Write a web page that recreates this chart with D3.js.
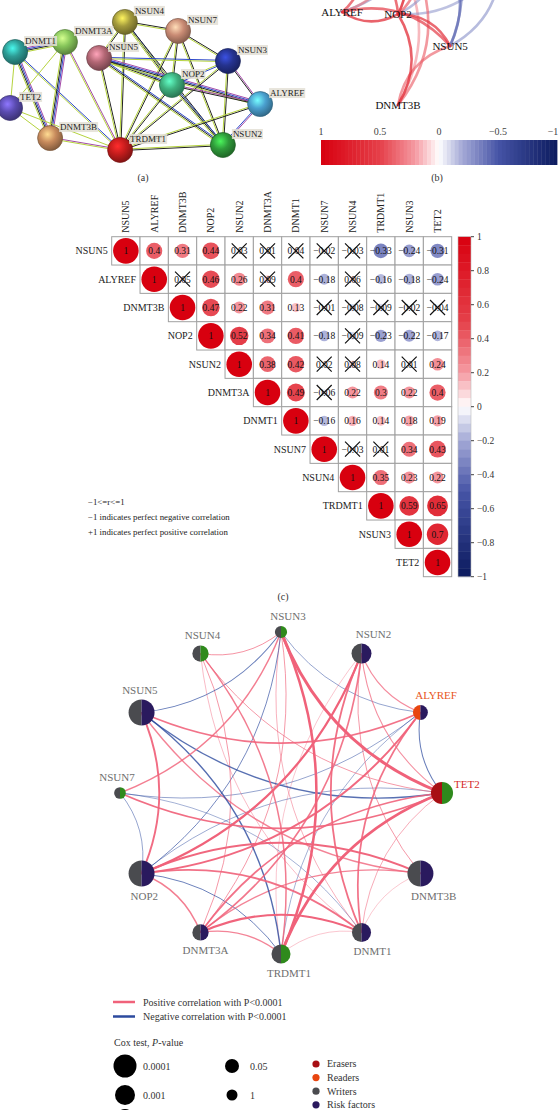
<!DOCTYPE html>
<html><head><meta charset="utf-8">
<script src="https://cdn.jsdelivr.net/npm/d3@7"></script>
<style>body{margin:0;background:#fff}svg{display:block}text{font-family:"Liberation Serif","DejaVu Serif",serif}</style>
</head><body><svg id="c" width="560" height="1110"></svg>
<script>
// ================= DATA =================
const genes = ["NSUN5","ALYREF","DNMT3B","NOP2","NSUN2","DNMT3A","DNMT1","NSUN7","NSUN4","TRDMT1","NSUN3","TET2"];
// upper-triangle rows of the correlation matrix (row i starts at column i)
const corrRows = [
 [1,0.4,0.31,0.44,0.03,0.01,0.04,-0.02,-0.03,-0.33,-0.24,-0.31],
 [1,0.05,0.46,0.26,0.09,0.4,-0.18,0.06,-0.16,-0.18,-0.24],
 [1,0.47,0.22,0.31,0.13,-0.01,-0.08,-0.09,-0.02,-0.04],
 [1,0.52,0.34,0.41,-0.18,-0.09,-0.23,-0.22,-0.17],
 [1,0.38,0.42,0.02,0.08,0.14,0.01,0.24],
 [1,0.49,-0.06,0.22,0.3,0.22,0.4],
 [1,-0.16,0.16,0.14,0.18,0.19],
 [1,-0.03,0.01,0.34,0.43],
 [1,0.35,0.23,0.22],
 [1,0.59,0.65],
 [1,0.7],
 [1]
];
const notSignificant = ["NSUN5|NSUN2","NSUN5|DNMT3A","NSUN5|DNMT1","NSUN5|NSUN7","NSUN5|NSUN4",
 "ALYREF|DNMT3B","ALYREF|DNMT3A","ALYREF|NSUN4",
 "DNMT3B|NSUN7","DNMT3B|NSUN4","DNMT3B|TRDMT1","DNMT3B|NSUN3","DNMT3B|TET2",
 "NOP2|NSUN4","NSUN2|NSUN7","NSUN2|NSUN4","NSUN2|NSUN3","DNMT3A|NSUN7","NSUN7|NSUN4","NSUN7|TRDMT1"];
const colorbarTicks = [1,0.8,0.6,0.4,0.2,0,-0.2,-0.4,-0.6,-0.8,-1];
const colorbarTicksB = [1,0.5,0,-0.5,-1];
const noteLines = ["−1<=r<=1","−1 indicates perfect negative correlation","+1 indicates perfect positive correlation"];

// panel (a): STRING network layout (layout units 0-100)
const aNodes = [
 {id:"DNMT1",x:5.4,y:30.6},{id:"DNMT3A",x:23.2,y:24.7},{id:"NSUN4",x:44.6,y:12.9},
 {id:"NSUN7",x:63.6,y:18.2},{id:"NSUN5",x:35.4,y:34.1},{id:"NSUN3",x:81.4,y:35.9},
 {id:"NOP2",x:61.4,y:50},{id:"ALYREF",x:92.9,y:61.2},{id:"TET2",x:3.6,y:63.5},
 {id:"DNMT3B",x:17.9,y:81.2},{id:"TRDMT1",x:42.9,y:88.2},{id:"NSUN2",x:79.6,y:85.3}];
// evidence channels: p experiments, b co-occurrence, k co-expression, g text-mining
const aEdges = [
 ["DNMT1","DNMT3A","pbkg"],["DNMT1","TET2","g"],["DNMT1","DNMT3B","pbkg"],["DNMT1","TRDMT1","bg"],
 ["DNMT3A","TET2","g"],["DNMT3A","DNMT3B","pbkg"],["DNMT3A","TRDMT1","pg"],["TET2","DNMT3B","g"],
 ["TET2","TRDMT1","g"],["DNMT3B","TRDMT1","pg"],["NSUN4","NSUN7","kg"],["NSUN4","NSUN5","kg"],
 ["NSUN4","NOP2","bkg"],["NSUN4","TRDMT1","kg"],["NSUN4","NSUN2","kg"],["NSUN7","NSUN3","kg"],
 ["NSUN7","NOP2","kg"],["NSUN7","TRDMT1","kg"],["NSUN7","NSUN2","kg"],["NSUN5","NSUN3","bg"],
 ["NSUN5","NOP2","bkg"],["NSUN5","ALYREF","pbkg"],["NSUN5","TRDMT1","kg"],["NSUN5","NSUN2","bkg"],
 ["NSUN3","NOP2","bg"],["NSUN3","ALYREF","pk"],["NSUN3","TRDMT1","kg"],["NSUN3","NSUN2","kg"],
 ["NOP2","ALYREF","pk"],["NOP2","TRDMT1","kg"],["NOP2","NSUN2","bkg"],["ALYREF","NSUN2","pb"],
 ["ALYREF","TRDMT1","kg"],["NSUN2","TRDMT1","kg"]];

// panel (b): network_plot layout (layout units; negative = above visible area)
const bNodes = [
 {id:"ALYREF",x:19.3,y:10},{id:"NOP2",x:40,y:11.7},{id:"NSUN5",x:59.3,y:38.3},{id:"DNMT3B",x:40,y:87.5},
 {id:"TRDMT1",x:55.6,y:-41.7},{id:"NSUN3",x:77.8,y:-33},{id:"TET2",x:51.9,y:-75},{id:"NSUN2",x:38.9,y:-37.5},
 {id:"DNMT3A",x:46.3,y:-29},{id:"DNMT1",x:25.9,y:-33},{id:"NSUN7",x:92.6,y:-75},{id:"NSUN4",x:85,y:-92}];
const minCorB = 0.2;

// panel (d): circular network
const dOrder = ["NSUN3","NSUN2","ALYREF","TET2","DNMT3B","DNMT1","TRDMT1","DNMT3A","NOP2","NSUN7","NSUN5","NSUN4"];
const dType = {NSUN3:"Writers",NSUN2:"Writers",ALYREF:"Readers",TET2:"Erasers",DNMT3B:"Writers",DNMT1:"Writers",
 TRDMT1:"Writers",DNMT3A:"Writers",NOP2:"Writers",NSUN7:"Writers",NSUN5:"Writers",NSUN4:"Writers"};
const dRisk = {NSUN3:"Favorable factors",NSUN2:"Risk factors",ALYREF:"Risk factors",TET2:"Favorable factors",
 DNMT3B:"Risk factors",DNMT1:"Risk factors",TRDMT1:"Favorable factors",DNMT3A:"Risk factors",NOP2:"Risk factors",
 NSUN7:"Favorable factors",NSUN5:"Risk factors",NSUN4:"Favorable factors"};
const dCoxP = {NSUN3:0.3,NSUN2:0.001,ALYREF:0.035,TET2:0.0002,DNMT3B:0.000001,DNMT1:0.003,TRDMT1:0.003,
 DNMT3A:0.02,NOP2:0.000001,NSUN7:0.5,NSUN5:0.000001,NSUN4:0.02};
const pLegend = [0.0001,0.001,0.01,0.05,1];
const pLegendLabels = ["0.0001","0.001","0.01","0.05","1"];
const typeLegend = ["Erasers","Readers","Writers","Risk factors"];
const lineLegend = [["Positive correlation with P<0.0001",1],["Negative correlation with P<0.0001",-1]];

// ================= HELPERS =================
const svg = d3.select("#c");
const defs = svg.append("defs");
const corr = {};
genes.forEach((g,i)=>corrRows[i].forEach((v,k)=>{const h=genes[i+k]; corr[g+"|"+h]=v; corr[h+"|"+g]=v;}));
const isNS = (a,b)=>notSignificant.includes(a+"|"+b)||notSignificant.includes(b+"|"+a);
const corrColor = d3.scaleLinear().domain([-1,-0.5,-0.2,0,0.2,0.5,1])
  .range(["#0b1a5e","#4654a6","#a3a8d6","#ffffff","#f59aa2","#e5404a","#d8000f"]);
const fmt = v => v===1?"1":(v<0?"−":"")+String(Math.abs(v));

// ================= PANEL (a) =================
const aColors = {DNMT1:"#2e9c95",DNMT3A:"#86c55a",NSUN4:"#a39a3c",NSUN7:"#c98b74",NSUN5:"#b36775",NSUN3:"#25338f",
 NOP2:"#3eb07e",ALYREF:"#4a9fce",TET2:"#5a4bb0",DNMT3B:"#c78a5c",TRDMT1:"#c41c1c",NSUN2:"#2f9a3a"};
const evColor = {p:"#a34aa8",b:"#2b46c8",k:"#222222",g:"#b5d33d"};
const xA = d3.scaleLinear().domain([0,100]).range([0,280]);
const yA = d3.scaleLinear().domain([0,100]).range([0,170]);
const aById = Object.fromEntries(aNodes.map(n=>[n.id,n]));
const gA = svg.append("g");
aEdges.forEach(([s,t,ev])=>{
  const x1=xA(aById[s].x),y1=yA(aById[s].y),x2=xA(aById[t].x),y2=yA(aById[t].y);
  const L=Math.hypot(x2-x1,y2-y1), nx=-(y2-y1)/L, ny=(x2-x1)/L;
  const chans = ev.split("");
  chans.forEach((c,k)=>{
    const o=(k-(chans.length-1)/2)*1.3;
    gA.append("line").attr("x1",x1+nx*o).attr("y1",y1+ny*o).attr("x2",x2+nx*o).attr("y2",y2+ny*o)
      .attr("stroke",evColor[c]).attr("stroke-width",1);
  });
});
aNodes.forEach(n=>{
  const c=d3.color(aColors[n.id]);
  const gr=defs.append("radialGradient").attr("id","ga"+n.id).attr("cx","40%").attr("cy","35%").attr("r","65%");
  gr.append("stop").attr("offset","0%").attr("stop-color",c.brighter(1.3));
  gr.append("stop").attr("offset","50%").attr("stop-color",c);
  gr.append("stop").attr("offset","100%").attr("stop-color",c.darker(1.1));
  gA.append("circle").attr("cx",xA(n.x)).attr("cy",yA(n.y)).attr("r",12.5)
    .attr("fill",`url(#ga${n.id})`).attr("stroke",c.darker(1.4)).attr("stroke-width",0.7);
});
aNodes.forEach(n=>{
  const tx=xA(n.x)+10, ty=yA(n.y)-8;
  const bg=gA.append("rect");
  const t=gA.append("text").attr("x",tx).attr("y",ty).attr("font-size",9).attr("fill","#222").text(n.id);
  const w=t.node().getComputedTextLength();
  bg.attr("x",tx-1).attr("y",ty-8).attr("width",w+2).attr("height",10).attr("fill","#e3dfd5").attr("opacity",0.85);
});
svg.append("text").attr("x",143).attr("y",181).attr("text-anchor","middle").attr("font-size",10).attr("fill","#333").text("(a)");

// ================= PANEL (b) =================
const xB = d3.scaleLinear().domain([0,100]).range([290,560]);
const yB = d3.scaleLinear().domain([0,100]).range([0,120]);
defs.append("clipPath").attr("id","clipB").append("rect").attr("x",288).attr("y",0).attr("width",272).attr("height",122);
const gB = svg.append("g").attr("clip-path","url(#clipB)");
const bById = Object.fromEntries(bNodes.map(n=>[n.id,n]));
const bEdges=[];
genes.forEach((a,i)=>genes.forEach((b,j)=>{ if(j>i && Math.abs(corr[a+"|"+b])>=minCorB) bEdges.push([a,b,corr[a+"|"+b]]); }));
bEdges.sort((p,q)=>Math.abs(p[2])-Math.abs(q[2]));
bEdges.forEach(([s,t,r])=>{
  const x1=xB(bById[s].x),y1=yB(bById[s].y),x2=xB(bById[t].x),y2=yB(bById[t].y);
  const L=Math.hypot(x2-x1,y2-y1), nx=-(y2-y1)/L, ny=(x2-x1)/L;
  const cx=(x1+x2)/2+nx*0.3*L, cy=(y1+y2)/2+ny*0.3*L;
  const rc=Math.max(-1,Math.min(1,r*1.3));
  gB.append("path").attr("d",`M${x1},${y1}Q${cx},${cy} ${x2},${y2}`).attr("fill","none")
    .attr("stroke",corrColor(rc)).attr("stroke-opacity",0.35+Math.abs(r)*0.9)
    .attr("stroke-width",2.6).attr("stroke-linecap","round");
});
bNodes.filter(n=>n.y>0).forEach(n=>{
  gB.append("text").attr("x",xB(n.x)).attr("y",yB(n.y)+4).attr("text-anchor","middle")
    .attr("font-size",11).attr("fill","#111").text(n.id);
});
// colour bar (b)
const cbx = d3.scaleLinear().domain([1,-1]).range([321,557]);
const nb=60, stepB=2/nb;
d3.range(nb).forEach(k=>{
  const v0=1-k*stepB, v1=v0-stepB;
  svg.append("rect").attr("x",cbx(v0)).attr("y",140).attr("width",cbx(v1)-cbx(v0)+0.4).attr("height",25)
    .attr("fill",corrColor((v0+v1)/2));
});
colorbarTicksB.forEach(v=>{
  svg.append("text").attr("x",Math.min(cbx(v),553)).attr("y",135).attr("text-anchor","middle").attr("font-size",10)
    .attr("fill","#444").text(fmt(v));
});
svg.append("text").attr("x",437).attr("y",181).attr("text-anchor","middle").attr("font-size",10).attr("fill","#333").text("(b)");

// ================= PANEL (c) =================
const x0c=111.7, y0c=236.7, cs=340/12;
const xc = d3.scaleBand().domain(genes).range([x0c,x0c+340]);
const yc = d3.scaleBand().domain(genes).range([y0c,y0c+340]);
const gC = svg.append("g");
genes.forEach((g,i)=>{
  gC.append("text").attr("x",xc(g)-4).attr("y",yc(g)+cs/2+3.5).attr("text-anchor","end")
    .attr("font-size",10).attr("fill","#222").text(g);
  const cx=xc(g)+cs/2+3.5;
  gC.append("text").attr("transform",`translate(${cx},${y0c-4}) rotate(-90)`).attr("font-size",10)
    .attr("fill","#222").text(g);
  corrRows[i].forEach((v,k)=>{
    const h=genes[i+k];
    gC.append("rect").attr("x",xc(h)).attr("y",yc(g)).attr("width",cs).attr("height",cs)
      .attr("fill","#fff").attr("stroke","#a0a0a0").attr("stroke-width",1);
  });
});
genes.forEach((g,i)=>{
  corrRows[i].forEach((v,k)=>{
    const h=genes[i+k];
    const cx=xc(h)+cs/2, cy=yc(g)+cs/2;
    gC.append("circle").attr("cx",cx).attr("cy",cy).attr("r",Math.max(3,12.8*Math.sqrt(Math.abs(v))))
      .attr("fill",corrColor(v));
    gC.append("text").attr("x",cx).attr("y",cy+3.4).attr("text-anchor","middle").attr("font-size",9.5)
      .attr("fill","#111").text(fmt(v));
    if(isNS(g,h)){
      const d=7.5;
      gC.append("path").attr("d",`M${cx-d},${cy-d}L${cx+d},${cy+d}M${cx+d},${cy-d}L${cx-d},${cy+d}`)
        .attr("stroke","#111").attr("stroke-width",1.2);
    }
  });
});
// colour bar (c)
const cby = d3.scaleLinear().domain([1,-1]).range([y0c,y0c+340]);
const nc=40, stepC=2/nc;
d3.range(nc).forEach(k=>{
  const v0=1-k*stepC, v1=v0-stepC;
  gC.append("rect").attr("x",458).attr("y",cby(v0)).attr("width",13).attr("height",cby(v1)-cby(v0)+0.4)
    .attr("fill",corrColor((v0+v1)/2));
});
gC.append("rect").attr("x",458).attr("y",y0c).attr("width",13).attr("height",340).attr("fill","none")
  .attr("stroke","#bbb").attr("stroke-width",0.6);
colorbarTicks.forEach(v=>{
  gC.append("line").attr("x1",471).attr("x2",474).attr("y1",cby(v)).attr("y2",cby(v)).attr("stroke","#444");
  gC.append("text").attr("x",477).attr("y",cby(v)+3.5).attr("font-size",9.5).attr("fill","#333").text(fmt(v));
});
noteLines.forEach((s,i)=>{
  gC.append("text").attr("x",88).attr("y",505+i*15).attr("font-size",8.8).attr("fill","#222").text(s);
});
svg.append("text").attr("x",283).attr("y",600).attr("text-anchor","middle").attr("font-size",10).attr("fill","#333").text("(c)");

// ================= PANEL (d) =================
const cxD=281, cyD=793, RD=161;
const ang = d3.scaleLinear().domain([0,12]).range([Math.PI/2, Math.PI/2-2*Math.PI]);
const sizeD = d3.scaleLinear().domain([0,1.3,2,3,4,6]).range([5.5,7,9,10,11.5,13]).clamp(true);
const typeColor = {"Erasers":"#a80f14","Readers":"#e8450f","Writers":"#4a4b4f","Risk factors":"#2a1a5e","Favorable factors":"#2f8a1c"};
const labelColor = {"Erasers":"#d42a2a","Readers":"#e8561c","Writers":"#6e6e6e"};
const dNodes = dOrder.map((id,i)=>({id,a:ang(i),x:cxD+RD*Math.cos(ang(i)),y:cyD-RD*Math.sin(ang(i)),r:sizeD(-Math.log10(dCoxP[id]))}));
const dById = Object.fromEntries(dNodes.map(n=>[n.id,n]));
const gD = svg.append("g");
const dEdges=[];
genes.forEach((a,i)=>genes.forEach((b,j)=>{ if(j>i && !isNS(a,b)) dEdges.push([a,b,corr[a+"|"+b]]); }));
dEdges.sort((p,q)=>Math.abs(p[2])-Math.abs(q[2]));
dEdges.forEach(([s,t,r])=>{
  const A=dById[s],B=dById[t];
  const L=Math.hypot(B.x-A.x,B.y-A.y); let nx=-(B.y-A.y)/L, ny=(B.x-A.x)/L;
  const mx=(A.x+B.x)/2,my=(A.y+B.y)/2;
  const dot=nx*(cxD-mx)+ny*(cyD-my);
  if(dot<-1e-6 || (Math.abs(dot)<1e-6 && ny<0)){nx=-nx;ny=-ny;}
  const qx=mx+nx*0.22*L, qy=my+ny*0.22*L;
  gD.append("path").attr("d",`M${A.x},${A.y}Q${qx},${qy} ${B.x},${B.y}`).attr("fill","none")
    .attr("stroke",r>0?"#f0627a":"#2c4a9e").attr("stroke-width",Math.max(0.6,4.3*Math.abs(r)))
    .attr("stroke-opacity",Math.min(1,0.45+1.1*Math.abs(r)));
});
const halfL=d3.arc().innerRadius(0).startAngle(Math.PI).endAngle(2*Math.PI);
const halfR=d3.arc().innerRadius(0).startAngle(0).endAngle(Math.PI);
dNodes.forEach(n=>{
  const g=gD.append("g").attr("transform",`translate(${n.x},${n.y})`);
  g.append("path").attr("d",halfL({outerRadius:n.r})).attr("fill",typeColor[dType[n.id]]);
  g.append("path").attr("d",halfR({outerRadius:n.r})).attr("fill",typeColor[dRisk[n.id]]);
  const s=Math.sin(n.a), c=Math.cos(n.a);
  let lx, ly, anchor="middle";
  if(Math.abs(s)<0.1 && c>0){ lx=n.x+n.r+1; ly=n.y-5; anchor="start"; }
  else if(s>-0.1){ lx=n.x+7+10*c; ly=n.y-n.r-6; }
  else { lx=n.x+8+6*c; ly=n.y+n.r+13; }
  gD.append("text").attr("x",lx).attr("y",ly).attr("text-anchor",anchor).attr("font-size",11)
    .attr("fill",labelColor[dType[n.id]]).text(n.id);
});
// legend (d)
lineLegend.forEach(([s,sg],i)=>{
  const y=1002+i*14.5;
  svg.append("line").attr("x1",113).attr("x2",135).attr("y1",y).attr("y2",y)
    .attr("stroke",sg>0?"#f0627a":"#2c4a9e").attr("stroke-width",2.5);
  svg.append("text").attr("x",143).attr("y",y+3.5).attr("font-size",10).attr("fill","#333").text(s);
});
const cox=svg.append("text").attr("x",114).attr("y",1046).attr("font-size",10).attr("fill","#333");
cox.append("tspan").text("Cox test, ");
cox.append("tspan").attr("font-style","italic").text("P");
cox.append("tspan").text("-value");
const legRowY=[1066,1095,1118];
pLegend.forEach((p,i)=>{
  const col=Math.floor(i/3), row=i%3;
  const x=125+col*107, y=legRowY[row];
  svg.append("circle").attr("cx",x).attr("cy",y).attr("r",sizeD(-Math.log10(p))).attr("fill","#000");
  if(y<1105) svg.append("text").attr("x",x+18).attr("y",y+3.5).attr("font-size",10).attr("fill","#333").text(pLegendLabels[i]);
});
typeLegend.forEach((t,i)=>{
  const y=1064+i*13.6;
  svg.append("circle").attr("cx",316).attr("cy",y).attr("r",3.6).attr("fill",typeColor[t]);
  svg.append("text").attr("x",327).attr("y",y+3.3).attr("font-size",10).attr("fill","#333").text(t);
});
</script></body></html>
